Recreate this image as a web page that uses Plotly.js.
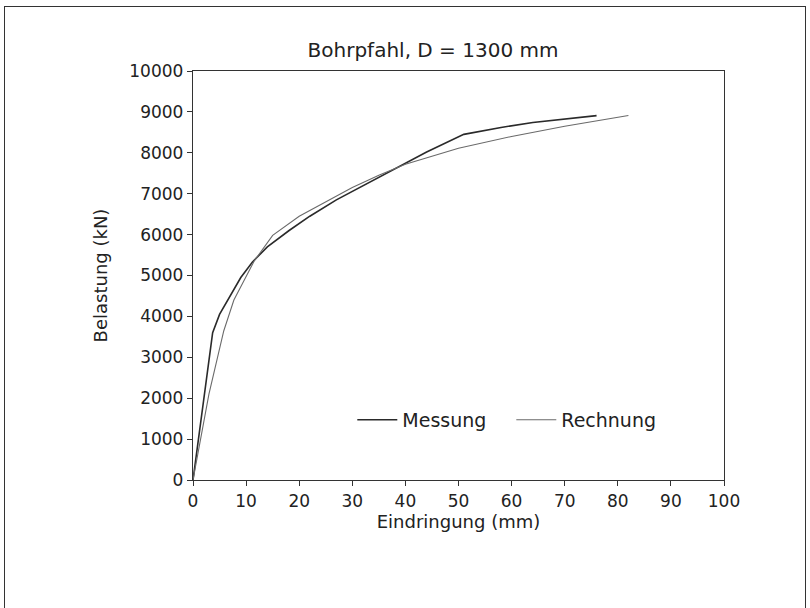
<!DOCTYPE html>
<html>
<head>
<meta charset="utf-8">
<script src="https://cdn.plot.ly/plotly-3.0.1.min.js"></script>
<style>
html,body{margin:0;padding:0;background:#fff;}
#wrap{position:relative;width:810px;height:608px;overflow:hidden;}
#frame{position:absolute;left:4px;top:6px;width:802px;height:620px;border:1.5px solid #333;box-sizing:border-box;pointer-events:none;}
#chart{position:absolute;left:0;top:0;width:810px;height:608px;}
</style>
</head>
<body>
<div id="wrap">
<div id="chart"></div>
<div id="frame"></div>
</div>
<script>
const messungX = [0, 3.7, 5, 6.8, 9, 11.2, 14, 18.1, 22, 27, 32, 38, 44, 51, 58, 64, 70, 76];
const messungY = [0, 3600, 4050, 4470, 4950, 5330, 5700, 6100, 6450, 6850, 7200, 7600, 8020, 8450, 8620, 8740, 8830, 8910];
const rechnungX = [0, 1, 3, 5.8, 7.7, 11.5, 15, 20, 25, 30, 35, 40, 50, 60, 70, 82];
const rechnungY = [0, 700, 2100, 3650, 4400, 5350, 5980, 6450, 6800, 7150, 7450, 7720, 8110, 8400, 8650, 8910];
const xTicks = [0, 10, 20, 30, 40, 50, 60, 70, 80, 90, 100];
const yTicks = [0, 1000, 2000, 3000, 4000, 5000, 6000, 7000, 8000, 9000, 10000];

const fam = 'DejaVu Sans, Liberation Sans, Arial, sans-serif';
const txt = '#222';

const traces = [
  {x: messungX, y: messungY, mode: 'lines', name: 'Messung', line: {color: '#2a2a2a', width: 1.6}},
  {x: rechnungX, y: rechnungY, mode: 'lines', name: 'Rechnung', line: {color: '#6a6a6a', width: 1.1}}
];

const axisCommon = {
  showgrid: false, zeroline: false, showline: true, linecolor: '#333', linewidth: 1.2,
  mirror: true, ticks: 'outside', ticklen: 5, tickcolor: '#333', tickwidth: 1,
  tickfont: {family: fam, size: 17, color: txt}
};

const layout = {
  width: 810, height: 608,
  paper_bgcolor: 'rgba(0,0,0,0)', plot_bgcolor: '#fff',
  margin: {l: 193, r: 86, t: 71, b: 128},
  font: {family: fam, size: 17, color: txt},
  title: {text: 'Bohrpfahl, D = 1300 mm', font: {family: fam, size: 20, color: txt}, x: 0.452, xref: 'paper', xanchor: 'center', y: 1, yref: 'paper', yanchor: 'bottom', pad: {b: 14}},
  xaxis: Object.assign({}, axisCommon, {
    range: [0, 100], tickvals: xTicks, ticktext: xTicks.map(String),
    title: {text: 'Eindringung (mm)', font: {family: fam, size: 18, color: txt}, standoff: 4}
  }),
  yaxis: Object.assign({}, axisCommon, {
    range: [0, 10000], tickvals: yTicks, ticktext: yTicks.map(String),
    title: {text: 'Belastung (kN)', font: {family: fam, size: 18, color: txt}, standoff: 17}
  }),
  showlegend: true,
  legend: {orientation: 'h', x: 0.3, xanchor: 'left', y: 0.147, yanchor: 'middle', bgcolor: 'rgba(0,0,0,0)',
           itemwidth: 40, entrywidth: 104, entrywidthmode: 'pixels',
           font: {family: fam, size: 19, color: txt}}
};

Plotly.newPlot('chart', traces, layout, {displayModeBar: false, staticPlot: true});
</script>
</body>
</html>
